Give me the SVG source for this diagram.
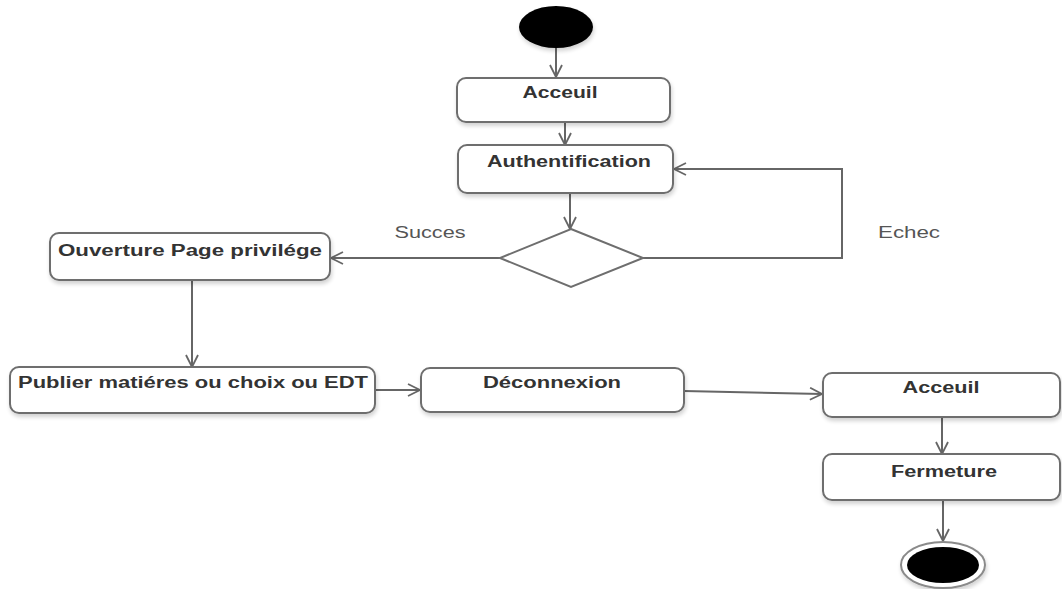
<svg xmlns="http://www.w3.org/2000/svg" width="1062" height="589" viewBox="0 0 1062 589">
  <style>
    .box { fill: #ffffff; stroke: #6e6e6e; stroke-width: 2; filter: url(#shadow); }
    .lbl { font-family: "Liberation Sans", Arial, sans-serif; font-weight: bold; font-size: 16px; fill: #333333; text-anchor: middle; }
    .guard { font-family: "Liberation Sans", Arial, sans-serif; font-size: 16px; fill: #555555; text-anchor: middle; }
    .edge { fill: none; stroke: #666666; stroke-width: 2; marker-end: url(#open); }
  </style>
  <defs>
    <filter id="shadow" x="-10%" y="-20%" width="120%" height="150%">
      <feGaussianBlur in="SourceAlpha" stdDeviation="2"/>
      <feOffset dx="1" dy="3" result="b"/>
      <feComponentTransfer><feFuncA type="linear" slope="0.18"/></feComponentTransfer>
      <feMerge><feMergeNode/><feMergeNode in="SourceGraphic"/></feMerge>
    </filter>
    <marker id="open" viewBox="0 0 14 14" refX="13" refY="7" markerWidth="14" markerHeight="14" markerUnits="userSpaceOnUse" orient="auto">
      <path d="M1,1 L13,7 L1,13" fill="none" stroke="#666666" stroke-width="1.8"/>
    </marker>
  </defs>

  <rect width="1062" height="589" fill="#ffffff"/>

  <!-- connectors -->
  <g id="connectors">
    <line class="edge" x1="556" y1="48" x2="556" y2="77"/>
    <line class="edge" x1="565" y1="122" x2="565" y2="145"/>
    <line class="edge" x1="570" y1="193" x2="570" y2="229"/>
    <polyline class="edge" points="643,258 842,258 842,169 674,169"/>
    <line class="edge" x1="500" y1="258" x2="331" y2="258"/>
    <line class="edge" x1="192" y1="280" x2="192" y2="367"/>
    <line class="edge" x1="375" y1="390" x2="420" y2="390"/>
    <line class="edge" x1="684" y1="391" x2="822" y2="394"/>
    <line class="edge" x1="942" y1="417" x2="942" y2="454"/>
    <line class="edge" x1="943" y1="500" x2="943" y2="541"/>
    <text class="guard" x="430" y="238" textLength="71" lengthAdjust="spacingAndGlyphs">Succes</text>
    <text class="guard" x="909" y="238" textLength="62" lengthAdjust="spacingAndGlyphs">Echec</text>
  </g>

  <!-- initial node -->
  <g id="start">
    <ellipse cx="556" cy="27" rx="37" ry="21" fill="#000000" filter="url(#shadow)"/>
  </g>

  <g id="acceuil1">
    <rect class="box" x="457" y="78" width="213" height="44" rx="9"/>
    <text class="lbl" x="560" y="98" textLength="75" lengthAdjust="spacingAndGlyphs">Acceuil</text>
  </g>

  <g id="authentification">
    <rect class="box" x="458" y="145" width="215" height="48" rx="9"/>
    <text class="lbl" x="569" y="167" textLength="164" lengthAdjust="spacingAndGlyphs">Authentification</text>
  </g>

  <g id="decision">
    <polygon points="571,229 643,258 571,287 500,258" fill="#ffffff" stroke="#6e6e6e" stroke-width="2"/>
  </g>

  <g id="ouverture">
    <rect class="box" x="50" y="233" width="280" height="47" rx="9"/>
    <text class="lbl" x="190" y="256" textLength="264" lengthAdjust="spacingAndGlyphs">Ouverture Page privilége</text>
  </g>

  <g id="publier">
    <rect class="box" x="10" y="367" width="365" height="46" rx="9"/>
    <text class="lbl" x="193" y="388" textLength="350" lengthAdjust="spacingAndGlyphs">Publier matiéres ou choix ou EDT</text>
  </g>

  <g id="deconnexion">
    <rect class="box" x="421" y="368" width="263" height="44" rx="9"/>
    <text class="lbl" x="552" y="388" textLength="138" lengthAdjust="spacingAndGlyphs">Déconnexion</text>
  </g>

  <g id="acceuil2">
    <rect class="box" x="823" y="373" width="237" height="44" rx="9"/>
    <text class="lbl" x="941" y="393" textLength="77" lengthAdjust="spacingAndGlyphs">Acceuil</text>
  </g>

  <g id="fermeture">
    <rect class="box" x="823" y="454" width="237" height="46" rx="9"/>
    <text class="lbl" x="944" y="477" textLength="106" lengthAdjust="spacingAndGlyphs">Fermeture</text>
  </g>

  <!-- final node -->
  <g id="end">
    <ellipse cx="943" cy="565" rx="42" ry="23" fill="#ffffff" stroke="#8a8a8a" stroke-width="2" filter="url(#shadow)"/>
    <ellipse cx="943" cy="565" rx="36" ry="18" fill="#000000"/>
  </g>
</svg>
